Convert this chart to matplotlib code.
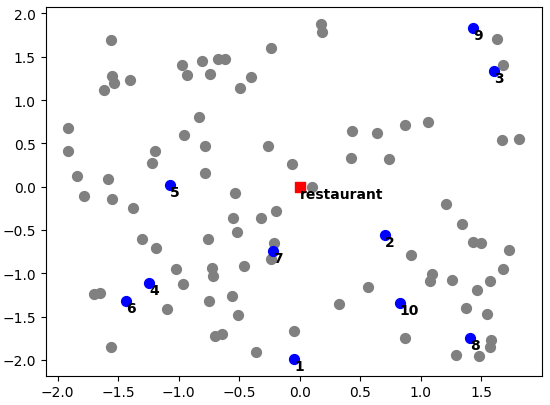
import matplotlib
matplotlib.use("Agg")
import matplotlib.pyplot as plt

# customers (gray)
cust_x = [
    -1.559, -1.548, -1.532, -1.614, -1.402, -1.912, -0.972, -0.931, -0.807, -0.744,
    -0.675, -0.614, -0.829, -0.956, -0.240, 0.174, 0.184, -0.405, -0.493, 0.432,
    0.636, 1.628, 1.680, 0.870, 1.060, 1.672, 1.812, -0.783, -1.912, -1.196,
    -1.218, -1.837, -1.584, -0.783, -1.782, -1.551, -1.375, -1.300, -1.187, -0.755,
    -1.022, -0.722, -0.262, 0.424, -0.060, 0.099, -0.531, -0.196, -0.548, -0.320,
    -0.515, -0.209, -0.237, -0.460, 0.741, 1.204, 1.341, 1.427, 1.493, 1.730,
    0.920, 1.680, -0.716, -0.964, -1.697, -1.647, -1.099, -0.750, -0.700, -1.559,
    -0.559, -0.507, -0.639, -0.358, -0.044, 0.325, 0.565, 1.088, 1.077, 1.259,
    1.466, 1.573, 1.375, 1.545, 0.870, 1.576, 1.568, 1.287, 1.482,
]
cust_y = [
    1.691, 1.277, 1.200, 1.120, 1.235, 0.682, 1.404, 1.289, 1.454, 1.304,
    1.473, 1.473, 0.809, 0.593, 1.600, 1.880, 1.790, 1.266, 1.139, 0.644,
    0.621, 1.704, 1.408, 0.713, 0.751, 0.540, 0.553, 0.475, 0.413, 0.413,
    0.275, 0.125, 0.091, 0.160, -0.105, -0.147, -0.243, -0.608, -0.712, -0.608,
    -0.950, -0.940, 0.475, 0.333, 0.267, -0.001, -0.078, -0.286, -0.358, -0.358,
    -0.528, -0.654, -0.831, -0.920, 0.321, -0.205, -0.428, -0.635, -0.646, -0.735,
    -0.793, -0.955, -1.026, -1.119, -1.234, -1.222, -1.415, -1.323, -1.729, -1.853,
    -1.265, -1.487, -1.706, -1.914, -1.668, -1.357, -1.161, -1.012, -1.092, -1.073,
    -1.188, -1.085, -1.396, -1.472, -1.749, -1.768, -1.853, -1.945, -1.956,
]

# selected stops (blue), labelled 1..10
stop_x = [-0.047, 0.700, 1.606, -1.245, -1.074, -1.435, -0.220, 1.405, 1.430, 0.826]
stop_y = [-1.990, -0.560, 1.339, -1.115, 0.014, -1.320, -0.743, -1.749, 1.834, -1.342]
stop_labels = ["1", "2", "3", "4", "5", "6", "7", "8", "9", "10"]

rest_x, rest_y = 0.0, 0.0

fig = plt.figure(figsize=(5.5, 4.06), dpi=100)
ax = fig.add_axes([0.083, 0.072, 0.902, 0.908])

ax.scatter(cust_x, cust_y, s=50, color="gray")
ax.scatter(stop_x, stop_y, s=50, color="blue")
ax.scatter([rest_x], [rest_y], s=50, color="red", marker="s")

for x, y, lab in zip(stop_x, stop_y, stop_labels):
    ax.text(x, y, lab, fontweight="bold", ha="left", va="top")
ax.text(rest_x, rest_y, "restaurant", fontweight="bold", ha="left", va="top")

fig.savefig("out.png", dpi=100)
